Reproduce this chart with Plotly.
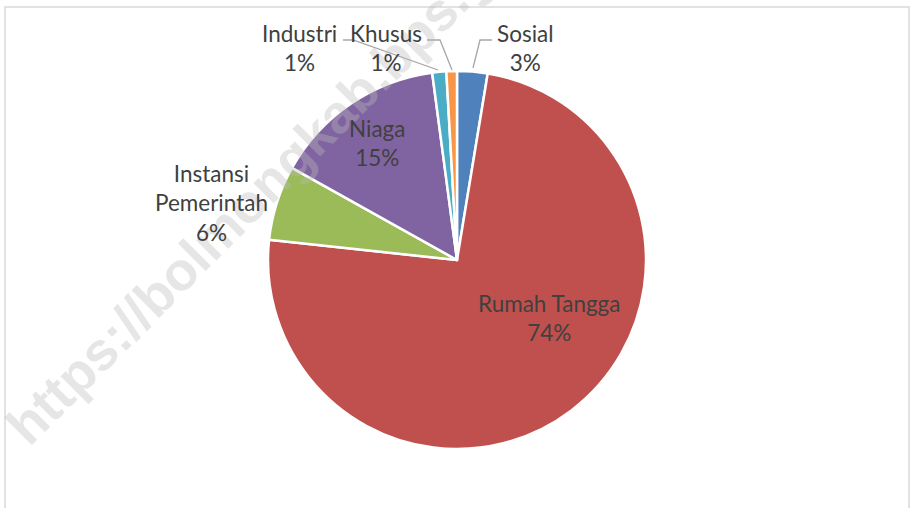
import plotly.graph_objects as go

W, H = 911, 508

labels = ["Sosial", "Rumah Tangga", "Instansi Pemerintah", "Niaga", "Industri", "Khusus"]
values = [2.6, 74.1, 6.4, 14.8, 1.2, 0.9]
colors = ["#4F81BD", "#C0504D", "#9BBB59", "#8064A2", "#4BACC6", "#F79646"]
label_lines = [["Sosial"], ["Rumah Tangga"], ["Instansi", "Pemerintah"], ["Niaga"], ["Industri"], ["Khusus"]]
watermark = "https://bolmongkab.bps.go.id"

# label centres (pixels) and leader lines (pixels)
label_pos = [(525, 48), (549, 318), (211, 203), (377, 143), (299, 48), (386, 48)]
leaders = {
    0: [(492, 40), (480, 40), (473, 68)],
    4: [(343, 40), (353, 40), (438, 70)],
    5: [(427, 40), (440, 40), (452, 70)],
}

def px(x):
    return x / W

def py(y):
    return 1 - y / H

cx, cy, r = 457, 260, 189

fig = go.Figure()
fig.add_trace(go.Pie(
    labels=labels, values=values, sort=False, direction="clockwise", rotation=0,
    marker=dict(colors=colors, line=dict(color="white", width=2.5)),
    textinfo="none", hoverinfo="label+percent", showlegend=False,
    domain=dict(x=[px(cx - r), px(cx + r)], y=[py(cy + r), py(cy - r)]),
))

annotations = [dict(
    text=watermark, x=px(283), y=py(167), xref="paper", yref="paper",
    xanchor="center", yanchor="middle", textangle=-45, showarrow=False,
    font=dict(family="Liberation Sans", size=54, weight="bold", color="rgba(185,185,185,0.36)"),
)]
total = sum(values)
for i, lab in enumerate(labels):
    pct = int(values[i] / total * 100 + 0.5)
    txt = "<br>".join(label_lines[i] + [f"{pct}%"])
    x, y = label_pos[i]
    annotations.append(dict(
        text=txt, x=px(x), y=py(y), xref="paper", yref="paper",
        xanchor="center", yanchor="middle", showarrow=False, align="center",
        font=dict(family="Lato, Carlito, Calibri, sans-serif", size=22.5, color="#404040"),
    ))

shapes = [dict(type="rect", xref="paper", yref="paper", x0=px(5), x1=px(909), y0=-0.2, y1=py(7),
               line=dict(color="#D9D9D9", width=1.5), layer="below")]
for k, pts in leaders.items():
    path = "M " + " L ".join(f"{px(a)},{py(b)}" for a, b in pts)
    shapes.append(dict(type="path", xref="paper", yref="paper", path=path,
                       line=dict(color="#A6A6A6", width=1.3)))

fig.update_layout(
    width=W, height=H, margin=dict(l=0, r=0, t=0, b=0),
    paper_bgcolor="white", plot_bgcolor="white",
    annotations=annotations, shapes=shapes,
)

fig.write_html("out.html", config={"displayModeBar": False},
               post_script="document.body.style.margin='0';document.body.style.overflow='hidden';")
